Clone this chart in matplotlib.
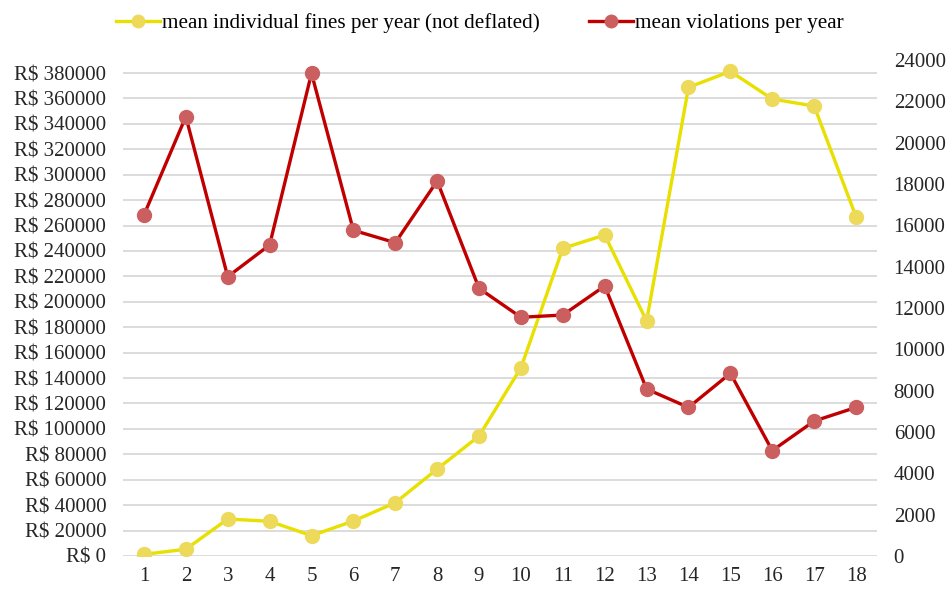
import matplotlib.pyplot as plt
from matplotlib.ticker import FuncFormatter, MultipleLocator

plt.rcParams["font.family"] = ["Liberation Serif", "DejaVu Serif"]

years = list(range(1, 19))
fines = [1300, 5300, 29100, 27300, 16000, 27500, 41900, 68400, 94400,
         148100, 242100, 252500, 184900, 368700, 381300, 359500, 354000, 266900]
violations = [16500, 21260, 13515, 15050, 23355, 15760, 15160, 18145, 12950,
              11550, 11660, 13065, 8080, 7190, 8840, 5100, 6530, 7190]

YELLOW_LINE = "#E8E000"
YELLOW_MARK = "#EDD95A"
RED_LINE = "#C00000"
RED_MARK = "#CB5F5F"

fig = plt.figure(figsize=(9.52, 5.9), dpi=100)
ax = fig.add_axes([123 / 952, 34 / 590, 754 / 952, 496 / 590])
ax2 = ax.twinx()

ax.plot(years, fines, color=YELLOW_LINE, linewidth=2.4, marker="o",
        markersize=10, markerfacecolor=YELLOW_MARK, markeredgecolor=YELLOW_MARK,
        label="mean individual fines per year (not deflated)", zorder=3)
ax2.plot(years, violations, color=RED_LINE, linewidth=2.4, marker="o",
         markersize=10, markerfacecolor=RED_MARK, markeredgecolor=RED_MARK,
         label="mean violations per year", zorder=3)

ax.set_xlim(0.5, 18.5)
ax.set_ylim(0, 380000 * 496 / 483)
ax2.set_ylim(0, 24000)
ax.set_xticks(years)
ax.set_yticks(range(0, 380001, 20000))
ax.yaxis.set_major_formatter(FuncFormatter(lambda v, p: f"R$ {int(v)}"))
ax2.yaxis.set_major_locator(MultipleLocator(2000))
ax2.yaxis.set_major_formatter(FuncFormatter(lambda v, p: f"{int(v)}"))

ax.grid(axis="y", color="#D9D9D9", linewidth=1.3)
ax.set_axisbelow(True)
for a in (ax, ax2):
    for s in a.spines.values():
        s.set_visible(False)
    a.tick_params(length=0, labelsize=15, colors="#262626")
ax.tick_params(axis="y", pad=12)
ax.tick_params(axis="x", pad=8)
ax2.tick_params(axis="y", pad=12)

h1, l1 = ax.get_legend_handles_labels()
h2, l2 = ax2.get_legend_handles_labels()
fig.legend(h1 + h2, l1 + l2, loc="center left",
           bbox_to_anchor=(116 / 952, 1 - 23 / 590), ncol=2, frameon=False,
           fontsize=15.2, handlelength=2.1, handletextpad=0.1,
           columnspacing=2.3, markerscale=0.9, borderpad=0, borderaxespad=0)

fig.savefig("out.png", dpi=100)
